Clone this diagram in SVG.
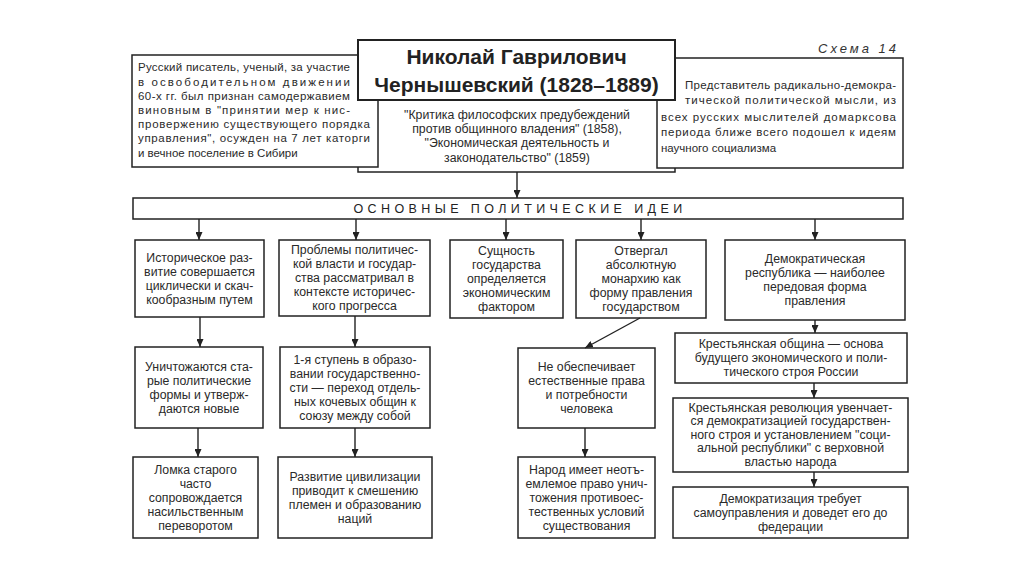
<svg xmlns="http://www.w3.org/2000/svg" width="1024" height="574" viewBox="0 0 1024 574">
<style>
.bx{fill:#fff;stroke:#222;stroke-width:1.5}
.t{font-family:"Liberation Sans",Arial,sans-serif;font-size:12.3px;fill:#2a2a2a}
.s{font-size:11.5px}
.m{text-anchor:middle}
.ttl{font-family:"Liberation Sans",Arial,sans-serif;font-size:21px;font-weight:bold;fill:#222;text-anchor:middle}
.hd{font-family:"Liberation Sans",Arial,sans-serif;font-size:12.5px;letter-spacing:4.4px;fill:#222;text-anchor:middle}
.sch{font-family:"Liberation Sans",Arial,sans-serif;font-size:13px;font-style:italic;letter-spacing:3px;fill:#333}
.ln{stroke:#222;stroke-width:1.4;fill:none}
</style>
<defs>
<marker id="ah" viewBox="0 0 8 7" refX="8" refY="3.5" markerWidth="8" markerHeight="7" markerUnits="userSpaceOnUse" orient="auto">
<path d="M0,0 L8,3.5 L0,7 z" fill="#222"/>
</marker>
</defs>
<rect width="1024" height="574" fill="#fff"/>

<text class="sch" x="818" y="53">Схема 14</text>

<g id="works">
<rect class="bx" x="358" y="100" width="317" height="72"/>
</g>
<g id="bio">
<rect class="bx" x="132" y="55" width="246" height="112"/>
<text class="t s" x="138" y="71" textLength="212" lengthAdjust="spacing">Русский писатель, ученый, за участие</text>
<text class="t s" x="138" y="86" textLength="212" lengthAdjust="spacing">в освободительном движении</text>
<text class="t s" x="138" y="100" textLength="212" lengthAdjust="spacing">60-х гг. был признан самодержавием</text>
<text class="t s" x="138" y="114" textLength="212" lengthAdjust="spacing">виновным в "принятии мер к нис-</text>
<text class="t s" x="138" y="128" textLength="232" lengthAdjust="spacing">провержению существующего порядка</text>
<text class="t s" x="138" y="142" textLength="232" lengthAdjust="spacing">управления", осужден на 7 лет каторги</text>
<text class="t s" x="138" y="157">и вечное поселение в Сибири</text>
</g>
<g id="role">
<rect class="bx" x="657" y="58" width="246" height="110"/>
<text class="t s" x="685" y="89" textLength="211" lengthAdjust="spacing">Представитель радикально-демокра-</text>
<text class="t s" x="685" y="104" textLength="211" lengthAdjust="spacing">тической политической мысли, из</text>
<text class="t s" x="661" y="121" textLength="235" lengthAdjust="spacing">всех русских мыслителей домарксова</text>
<text class="t s" x="661" y="136" textLength="235" lengthAdjust="spacing">периода ближе всего подошел к идеям</text>
<text class="t s" x="661" y="152">научного социализма</text>
</g>
<g id="title">
<rect class="bx" x="358" y="40" width="317" height="60" style="stroke-width:2"/>
<text class="ttl" x="516.5" y="64">Николай Гаврилович</text>
<text class="ttl" x="516.5" y="92">Чернышевский (1828–1889)</text>
</g>
<g id="works-text">
<rect x="379" y="101" width="277" height="70" fill="#fff"/>
<text class="t m" x="517" y="119">"Критика философских предубеждений</text>
<text class="t m" x="517" y="133">против общинного владения" (1858),</text>
<text class="t m" x="517" y="147">"Экономическая деятельность и</text>
<text class="t m" x="517" y="162">законодательство" (1859)</text>
</g>

<g id="header">
<rect class="bx" x="133" y="198" width="770" height="21"/>
<text class="hd" x="520" y="213">ОСНОВНЫЕ ПОЛИТИЧЕСКИЕ ИДЕИ</text>
</g>

<g id="c1r1"><rect class="bx" x="135" y="240" width="129" height="77"/>
<text class="t m" x="199.5" y="261.5">Историческое раз-</text>
<text class="t m" x="199.5" y="275.5">витие совершается</text>
<text class="t m" x="199.5" y="289.5">циклически и скач-</text>
<text class="t m" x="199.5" y="303.5">кообразным путем</text></g>

<g id="c2r1"><rect class="bx" x="279" y="240" width="151" height="76"/>
<text class="t m" x="354.5" y="254">Проблемы политичес-</text>
<text class="t m" x="354.5" y="268">кой власти и государ-</text>
<text class="t m" x="354.5" y="282">ства рассматривал в</text>
<text class="t m" x="354.5" y="296">контексте историчес-</text>
<text class="t m" x="354.5" y="310">кого прогресса</text></g>

<g id="c3r1"><rect class="bx" x="450" y="240" width="113" height="78"/>
<text class="t m" x="506.5" y="255">Сущность</text>
<text class="t m" x="506.5" y="269">государства</text>
<text class="t m" x="506.5" y="283">определяется</text>
<text class="t m" x="506.5" y="297">экономическим</text>
<text class="t m" x="506.5" y="311">фактором</text></g>

<g id="c4r1"><rect class="bx" x="576" y="240" width="130" height="78"/>
<text class="t m" x="641" y="255">Отвергал</text>
<text class="t m" x="641" y="269">абсолютную</text>
<text class="t m" x="641" y="283">монархию как</text>
<text class="t m" x="641" y="297">форму правления</text>
<text class="t m" x="641" y="311">государством</text></g>

<g id="c5r1"><rect class="bx" x="725" y="240" width="180" height="80"/>
<text class="t m" x="815" y="263">Демократическая</text>
<text class="t m" x="815" y="277">республика — наиболее</text>
<text class="t m" x="815" y="291">передовая форма</text>
<text class="t m" x="815" y="305">правления</text></g>

<g id="c1r2"><rect class="bx" x="135" y="347" width="128" height="81"/>
<text class="t m" x="199" y="370.5">Уничтожаются ста-</text>
<text class="t m" x="199" y="384.5">рые политические</text>
<text class="t m" x="199" y="398.5">формы и утверж-</text>
<text class="t m" x="199" y="412.5">даются новые</text></g>

<g id="c2r2"><rect class="bx" x="280" y="347" width="150" height="81"/>
<text class="t m" x="355" y="363.5">1-я ступень в образо-</text>
<text class="t m" x="355" y="377.5">вании государственно-</text>
<text class="t m" x="355" y="391.5">сти — переход отдель-</text>
<text class="t m" x="355" y="405.5">ных кочевых общин к</text>
<text class="t m" x="355" y="419.5">союзу между собой</text></g>

<g id="c4r2"><rect class="bx" x="518" y="348" width="137" height="80"/>
<text class="t m" x="586.5" y="371">Не обеспечивает</text>
<text class="t m" x="586.5" y="385">естественные права</text>
<text class="t m" x="586.5" y="399">и потребности</text>
<text class="t m" x="586.5" y="413">человека</text></g>

<g id="c5r2"><rect class="bx" x="675" y="333" width="232" height="50"/>
<text class="t m" x="791" y="348">Крестьянская община — основа</text>
<text class="t m" x="791" y="362">будущего экономического и поли-</text>
<text class="t m" x="791" y="376">тического строя России</text></g>

<g id="c5r3"><rect class="bx" x="673" y="398" width="235" height="74"/>
<text class="t m" x="790.5" y="411.5">Крестьянская революция увенчает-</text>
<text class="t m" x="790.5" y="425">ся демократизацией государствен-</text>
<text class="t m" x="790.5" y="438.5">ного строя и установлением "соци-</text>
<text class="t m" x="790.5" y="452">альной республики" с верховной</text>
<text class="t m" x="790.5" y="465.5">властью народа</text></g>

<g id="c5r4"><rect class="bx" x="673" y="487" width="235" height="51"/>
<text class="t m" x="790.5" y="502.5">Демократизация требует</text>
<text class="t m" x="790.5" y="516.5">самоуправления и доведет его до</text>
<text class="t m" x="790.5" y="530.5">федерации</text></g>

<g id="c1r3"><rect class="bx" x="133" y="457" width="125" height="81"/>
<text class="t m" x="195.5" y="473.5">Ломка старого</text>
<text class="t m" x="195.5" y="487.5">часто</text>
<text class="t m" x="195.5" y="501.5">сопровождается</text>
<text class="t m" x="195.5" y="515.5">насильственным</text>
<text class="t m" x="195.5" y="529.5">переворотом</text></g>

<g id="c2r3"><rect class="bx" x="278" y="457" width="154" height="81"/>
<text class="t m" x="355" y="480.5">Развитие цивилизации</text>
<text class="t m" x="355" y="494.5">приводит к смешению</text>
<text class="t m" x="355" y="508.5">племен и образованию</text>
<text class="t m" x="355" y="522.5">наций</text></g>

<g id="c4r3"><rect class="bx" x="518" y="457" width="137" height="81"/>
<text class="t m" x="586.5" y="473.5">Народ имеет неотъ-</text>
<text class="t m" x="586.5" y="487.5">емлемое право унич-</text>
<text class="t m" x="586.5" y="501.5">тожения противоес-</text>
<text class="t m" x="586.5" y="515.5">тественных условий</text>
<text class="t m" x="586.5" y="529.5">существования</text></g>

<g id="connectors">
<line class="ln" x1="517" y1="172" x2="517" y2="198" marker-end="url(#ah)"/>
<line class="ln" x1="199" y1="219" x2="199" y2="240" marker-end="url(#ah)"/>
<line class="ln" x1="356" y1="219" x2="356" y2="240" marker-end="url(#ah)"/>
<line class="ln" x1="506" y1="219" x2="506" y2="240" marker-end="url(#ah)"/>
<line class="ln" x1="641" y1="219" x2="641" y2="240" marker-end="url(#ah)"/>
<line class="ln" x1="815" y1="219" x2="815" y2="240" marker-end="url(#ah)"/>
<line class="ln" x1="200" y1="317" x2="200" y2="347" marker-end="url(#ah)"/>
<line class="ln" x1="198" y1="428" x2="198" y2="457" marker-end="url(#ah)"/>
<line class="ln" x1="355" y1="316" x2="355" y2="347" marker-end="url(#ah)"/>
<line class="ln" x1="355" y1="428" x2="355" y2="457" marker-end="url(#ah)"/>
<line class="ln" x1="640" y1="318" x2="585" y2="348" marker-end="url(#ah)"/>
<line class="ln" x1="585" y1="428" x2="585" y2="457" marker-end="url(#ah)"/>
<line class="ln" x1="815" y1="320" x2="815" y2="333" marker-end="url(#ah)"/>
<line class="ln" x1="814" y1="383" x2="814" y2="398" marker-end="url(#ah)"/>
<line class="ln" x1="814" y1="472" x2="814" y2="487" marker-end="url(#ah)"/>
</g>
</svg>
